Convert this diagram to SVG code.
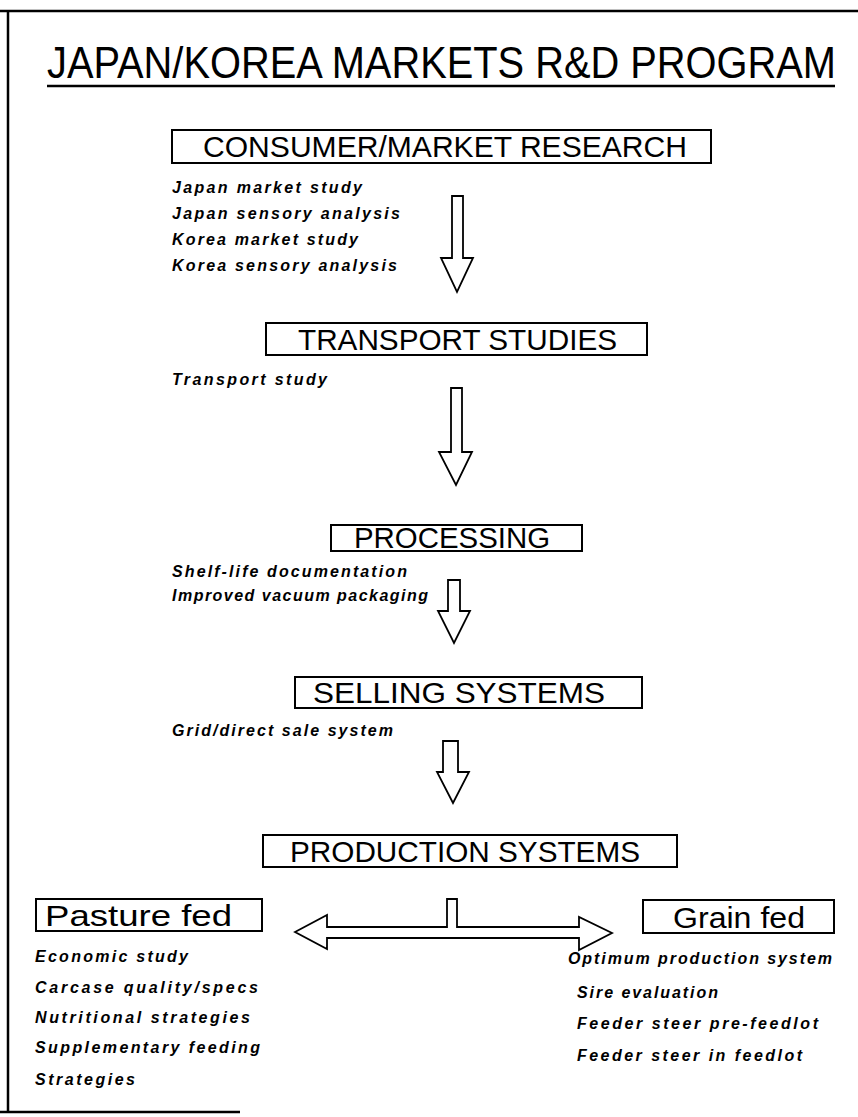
<svg xmlns="http://www.w3.org/2000/svg" width="858" height="1117" viewBox="0 0 858 1117">
  <style>
    .frame { stroke: #000; stroke-width: 2.5; fill: none; }
    .box { fill: #fff; stroke: #000; stroke-width: 2; }
    .head { font-family: "Liberation Sans", Arial, sans-serif; font-size: 30px; fill: #000; }
    .item { font-family: "Liberation Sans", Arial, sans-serif; font-size: 16px; font-weight: bold; font-style: italic; fill: #000; }
    .arrow { fill: #fff; stroke: #000; stroke-width: 1.8; stroke-linejoin: miter; }
  </style>

  <rect width="858" height="1117" fill="#fff"/>

  <!-- page frame -->
  <g id="frame">
    <line class="frame" x1="0" y1="11" x2="858" y2="11"/>
    <line class="frame" x1="8" y1="11" x2="8" y2="1112"/>
    <line class="frame" x1="0" y1="1112" x2="240" y2="1112"/>
  </g>

  <!-- title, set in a condensed face -->
  <g id="title">
    <text transform="translate(47,78) scale(0.905,1)" x="0" y="0" font-family="Liberation Sans, Arial, sans-serif" font-size="44">JAPAN/KOREA MARKETS R&amp;D PROGRAM</text>
    <line x1="47" y1="86" x2="835" y2="86" stroke="#000" stroke-width="2.5"/>
  </g>

  <g id="consumer">
    <rect class="box" x="172" y="130" width="539" height="33"/>
    <text class="head" x="203" y="157" textLength="484" lengthAdjust="spacingAndGlyphs">CONSUMER/MARKET RESEARCH</text>
    <text class="item" x="172" y="193" textLength="190" lengthAdjust="spacing">Japan market study</text>
    <text class="item" x="172" y="219" textLength="228" lengthAdjust="spacing">Japan sensory analysis</text>
    <text class="item" x="172" y="245" textLength="186" lengthAdjust="spacing">Korea market study</text>
    <text class="item" x="172" y="271" textLength="225" lengthAdjust="spacing">Korea sensory analysis</text>
  </g>

  <g id="transport">
    <rect class="box" x="266" y="323" width="381" height="32"/>
    <text class="head" x="298" y="350" textLength="319" lengthAdjust="spacingAndGlyphs">TRANSPORT STUDIES</text>
    <text class="item" x="172" y="385" textLength="155" lengthAdjust="spacing">Transport study</text>
  </g>

  <g id="processing">
    <rect class="box" x="331" y="525" width="251" height="26"/>
    <text class="head" x="354" y="548" font-size="28" textLength="196" lengthAdjust="spacingAndGlyphs">PROCESSING</text>
    <text class="item" x="172" y="577" textLength="235" lengthAdjust="spacing">Shelf-life documentation</text>
    <text class="item" x="172" y="601" textLength="256" lengthAdjust="spacing">Improved vacuum packaging</text>
  </g>

  <g id="selling">
    <rect class="box" x="295" y="677" width="347" height="31"/>
    <text class="head" x="313" y="703" textLength="292" lengthAdjust="spacingAndGlyphs">SELLING SYSTEMS</text>
    <text class="item" x="172" y="736" textLength="221" lengthAdjust="spacing">Grid/direct sale system</text>
  </g>

  <g id="production">
    <rect class="box" x="263" y="835" width="414" height="32"/>
    <text class="head" x="290" y="862" textLength="350" lengthAdjust="spacingAndGlyphs">PRODUCTION SYSTEMS</text>
  </g>

  <g id="pasture">
    <rect class="box" x="36" y="899" width="226" height="32"/>
    <text class="head" x="45" y="926" font-size="31" textLength="187" lengthAdjust="spacingAndGlyphs">Pasture fed</text>
    <text class="item" x="35" y="962" textLength="153" lengthAdjust="spacing">Economic study</text>
    <text class="item" x="35" y="993" textLength="223" lengthAdjust="spacing">Carcase quality/specs</text>
    <text class="item" x="35" y="1023" textLength="215" lengthAdjust="spacing">Nutritional strategies</text>
    <text class="item" x="35" y="1053" textLength="225" lengthAdjust="spacing">Supplementary feeding</text>
    <text class="item" x="35" y="1085" textLength="100" lengthAdjust="spacing">Strategies</text>
  </g>

  <g id="grain">
    <rect class="box" x="643" y="900" width="191" height="33"/>
    <text class="head" x="673" y="928" font-size="31" textLength="132" lengthAdjust="spacingAndGlyphs">Grain fed</text>
    <text class="item" x="568" y="964" textLength="264" lengthAdjust="spacing">Optimum production system</text>
    <text class="item" x="577" y="998" textLength="141" lengthAdjust="spacing">Sire evaluation</text>
    <text class="item" x="577" y="1029" textLength="241" lengthAdjust="spacing">Feeder steer pre-feedlot</text>
    <text class="item" x="577" y="1061" textLength="225" lengthAdjust="spacing">Feeder steer in feedlot</text>
  </g>

  <!-- block arrows between stages -->
  <g id="connectors">
    <path class="arrow" d="M452,196 H463 V258 H473 L457,292 L441,258 H452 Z"/>
    <path class="arrow" d="M451,388 H462 V452 H472 L456,485 L439,452 H451 Z"/>
    <path class="arrow" d="M448,580 H460 V611 H470 L454,643 L438,611 H448 Z"/>
    <path class="arrow" d="M443,741 H458 V772 H469 L453,803 L437,772 H443 Z"/>
    <path class="arrow" d="M295,932 L327,915 V927 H447 V899 H457 V927 H579 V917 L612,933 L579,950 V938 H327 V949 Z"/>
  </g>
</svg>
